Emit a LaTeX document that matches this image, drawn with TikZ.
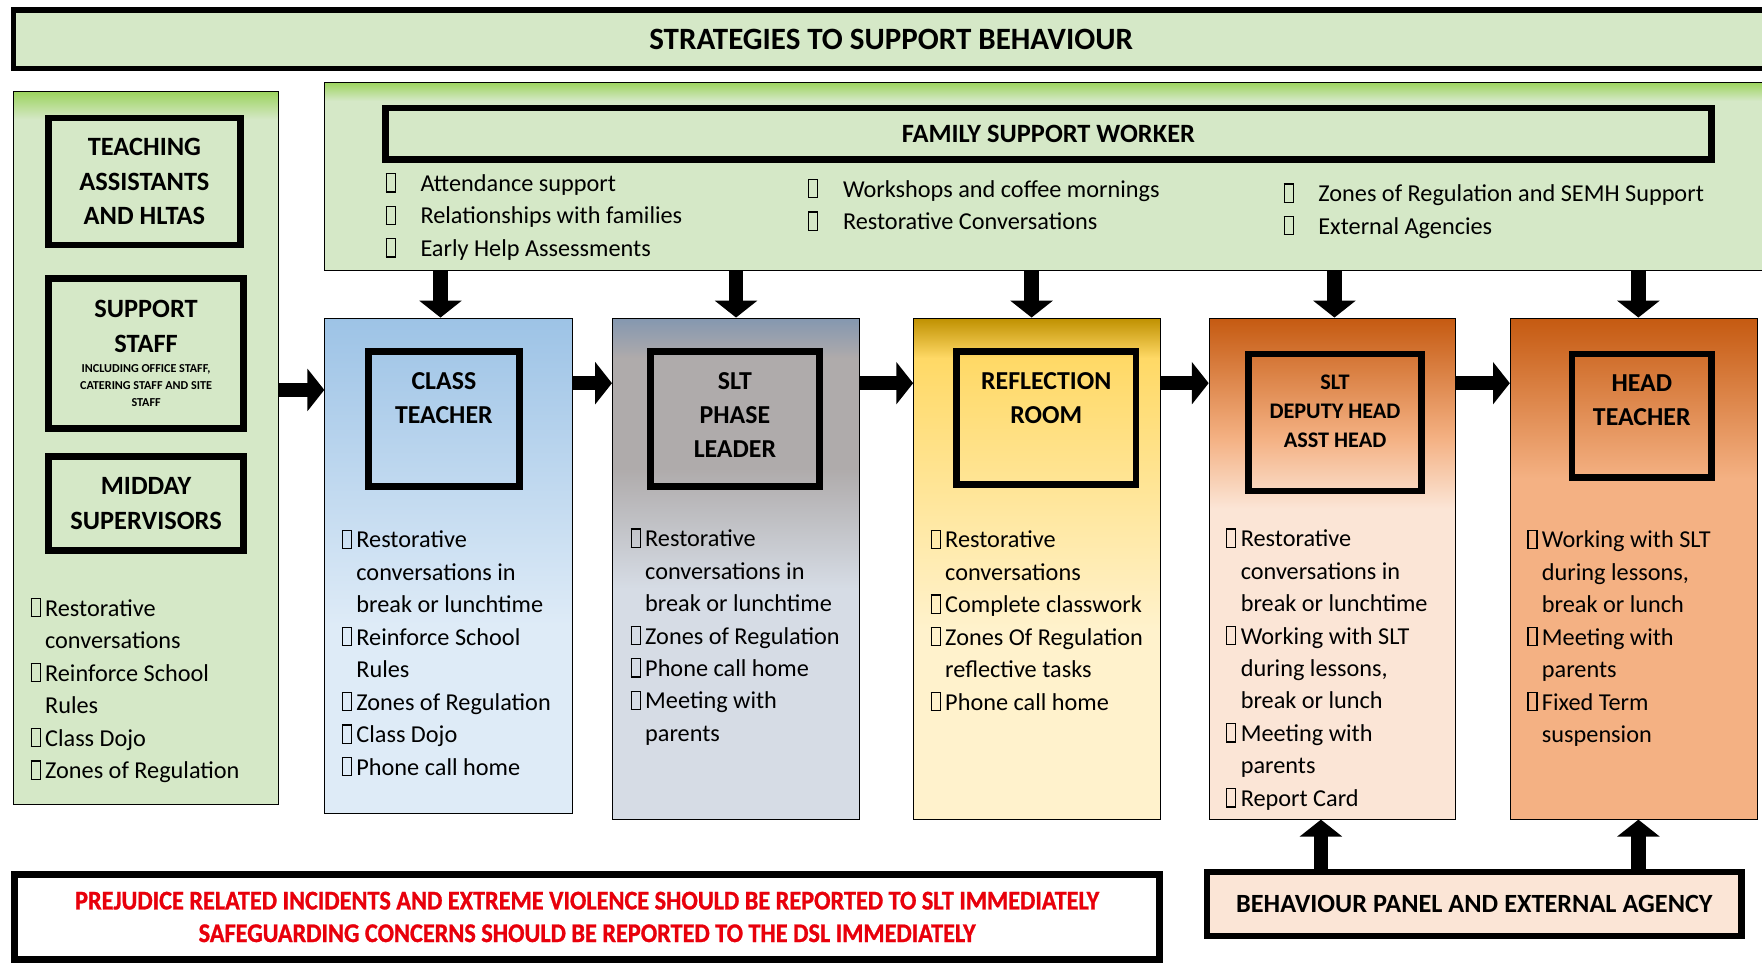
\documentclass[tikz,border=0pt]{standalone}
\usepackage{fontspec}
\setmainfont{Carlito}
\newfontfamily\warnfont{Carlito}[FakeStretch=0.9,FakeBold=1]
\usetikzlibrary{positioning,arrows.meta}

\definecolor{panelgreen}{HTML}{D5E8C7}
\definecolor{topgreen}{HTML}{9BD35C}
\definecolor{classtop}{HTML}{9DC3E6}
\definecolor{classbot}{HTML}{DEEBF7}
\definecolor{slttop}{HTML}{8497B0}
\definecolor{sltmid}{HTML}{AFABAB}
\definecolor{sltbot}{HTML}{D6DCE5}
\definecolor{refltop}{HTML}{BF9000}
\definecolor{reflmid}{HTML}{FFD966}
\definecolor{reflbot}{HTML}{FFF2CC}
\definecolor{deptop}{HTML}{C55A11}
\definecolor{depmid}{HTML}{F4B183}
\definecolor{depbot}{HTML}{FBE5D6}
\definecolor{warnred}{HTML}{E8000B}

% gradients, path box = 25bp..75bp
\pgfdeclareverticalshading{staffshade}{100bp}{color(0bp)=(panelgreen); color(73bp)=(panelgreen); color(75bp)=(topgreen); color(100bp)=(topgreen)}
\pgfdeclareverticalshading{fswshade}{100bp}{color(0bp)=(panelgreen); color(70bp)=(panelgreen); color(75bp)=(topgreen); color(100bp)=(topgreen)}
\pgfdeclareverticalshading{classshade}{100bp}{color(0bp)=(classbot); color(44bp)=(classbot); color(75bp)=(classtop); color(100bp)=(classtop)}
\pgfdeclareverticalshading{sltshade}{100bp}{color(0bp)=(sltbot); color(48bp)=(sltbot); color(60bp)=(sltmid); color(71bp)=(sltmid); color(75bp)=(slttop); color(100bp)=(slttop)}
\pgfdeclareverticalshading{reflshade}{100bp}{color(0bp)=(reflbot); color(44bp)=(reflbot); color(71bp)=(reflmid); color(75bp)=(refltop); color(100bp)=(refltop)}
\pgfdeclareverticalshading{depshade}{100bp}{color(0bp)=(depbot); color(56bp)=(depbot); color(63bp)=(depmid); color(75bp)=(deptop); color(100bp)=(deptop)}
\pgfdeclareverticalshading{headshade}{100bp}{color(0bp)=(depmid); color(59bp)=(depmid); color(75bp)=(deptop); color(100bp)=(deptop)}

\newcommand\tofu{\hbox to .6em{\setlength\fboxsep{0pt}\setlength\fboxrule{.05em}\fbox{\rule{0pt}{.7em}\rule{.32em}{0pt}}\hss}}
\newcommand\hang{\hphantom{\tofu}}
\newcommand\fitem{\makebox[31pt][l]{\tofu}}

\begin{document}
\begin{tikzpicture}[x=1pt,y=-1pt,
  every node/.style={inner sep=0pt},
  panel/.style={draw=black, line width=0.8pt, minimum width=220pt},
  thickbox/.style={draw=black, line width=6pt, align=center, font=\bfseries\fontsize{23.5}{30.5}\selectfont},
  roletext/.style={align=center, font=\bfseries\fontsize{23}{30.5}\selectfont},
  lst/.style={anchor=north west, align=left, font=\fontsize{21.6}{28.9}\selectfont},
  blockarrow/.style={line width=13pt, -{Triangle[width=37pt,length=15pt]}}]

\useasboundingbox (0,0) rectangle (1568,858);

% title bar
\node[thickbox, line width=5pt, fill=panelgreen, minimum width=1562pt, minimum height=52pt, font=\bfseries\fontsize{27.6}{30}\selectfont] (title) at (793,35) {STRATEGIES TO SUPPORT BEHAVIOUR};

% staff panel
\node[panel, shading=staffshade, minimum width=236pt, minimum height=635pt] (staff) at (130,398.5) {};
\node[thickbox, minimum width=171pt, minimum height=113pt] (ta) at (128.5,161.5) {TEACHING\\ASSISTANTS\\AND HLTAS};
\node[thickbox, minimum width=174pt, minimum height=133pt] (ss) at (130,314.5) {SUPPORT\\STAFF\\[-12.5pt]\parbox[t]{170pt}{\centering\fontsize{10.8}{15}\selectfont INCLUDING OFFICE STAFF,\\CATERING STAFF AND SITE\\STAFF}};
\node[thickbox, minimum width=174pt, minimum height=84pt] (ms) at (130,448) {MIDDAY\\SUPERVISORS};
\node[lst] (stafflist) at (27,532) {\tofu Restorative\\\hang conversations\\\tofu Reinforce School\\\hang Rules\\\tofu Class Dojo\\\tofu Zones of Regulation};

% family support worker
\node[panel, shading=fswshade, minimum width=1291pt, minimum height=168pt] (fsw) at (934.5,157) {};
\node[thickbox, font=\bfseries\fontsize{23.5}{26}\selectfont, minimum width=1180pt, minimum height=46pt] (fswhead) at (933,119) {FAMILY SUPPORT WORKER};
\node[lst] (fswa) at (343,154) {\fitem Attendance support\\\fitem Relationships with families\\\fitem Early Help Assessments};
\node[lst] (fswb) at (719,159) {\fitem Workshops and coffee mornings\\\fitem Restorative Conversations};
\node[lst] (fswc) at (1142,163) {\fitem Zones of Regulation and SEMH Support\\\fitem External Agencies};

% columns
\node[panel, shading=classshade, minimum height=441pt] (class) at (399,503.5) {};
\node[panel, shading=sltshade, minimum height=446pt] (slt) at (655,506) {};
\node[panel, shading=reflshade, minimum height=446pt] (refl) at (923,506) {};
\node[panel, shading=depshade, minimum width=219pt, minimum height=446pt] (dep) at (1185.5,506) {};
\node[panel, shading=headshade, minimum height=446pt] (head) at (1454,506) {};

\node[thickbox, minimum width=134pt, minimum height=120pt] (ct) at (395,373) {};
\node[roletext, below=21pt of ct.north] (cttext) {CLASS\\TEACHER};
\node[thickbox, minimum width=150pt, minimum height=120pt] (sp) at (654,373) {};
\node[roletext, below=21pt of sp.north] (sptext) {SLT\\PHASE\\LEADER};
\node[thickbox, minimum width=160pt, minimum height=118pt] (rr) at (931,372) {};
\node[roletext, below=21pt of rr.north] (rrtext) {REFLECTION\\ROOM};
\node[thickbox, minimum width=154pt, minimum height=122pt] (dh) at (1188,376) {};
\node[roletext, font=\bfseries\fontsize{19.8}{26}\selectfont, below=21pt of dh.north] (dhtext) {SLT\\DEPUTY HEAD\\ASST HEAD};
\node[thickbox, minimum width=124pt, minimum height=110pt] (ht) at (1461,370) {};
\node[roletext, below=21pt of ht.north] (httext) {HEAD\\TEACHER};

\node[lst] (classlist) at (304,471) {\tofu Restorative\\\hang conversations in\\\hang break or lunchtime\\\tofu Reinforce School\\\hang Rules\\\tofu Zones of Regulation\\\tofu Class Dojo\\\tofu Phone call home};
\node[lst] (sltlist) at (561,470) {\tofu Restorative\\\hang conversations in\\\hang break or lunchtime\\\tofu Zones of Regulation\\\tofu Phone call home\\\tofu Meeting with\\\hang parents};
\node[lst] (refllist) at (828,471) {\tofu Restorative\\\hang conversations\\\tofu Complete classwork\\\tofu Zones Of Regulation\\\hang reflective tasks\\\tofu Phone call home};
\node[lst] (deplist) at (1091,470) {\tofu Restorative\\\hang conversations in\\\hang break or lunchtime\\\tofu Working with SLT\\\hang during lessons,\\\hang break or lunch\\\tofu Meeting with\\\hang parents\\\tofu Report Card};
\node[lst] (headlist) at (1359,471) {\tofu Working with SLT\\\hang during lessons,\\\hang break or lunch\\\tofu Meeting with\\\hang parents\\\tofu Fixed Term\\\hang suspension};

% arrows
\coordinate (rowa) at (0,347);
\coordinate (rowb) at (0,341);
\draw[blockarrow] (staff.east |- rowa) -- (class.west |- rowa);
\draw[blockarrow] (class.east |- rowb) -- (slt.west |- rowb);
\draw[blockarrow] (slt.east |- rowb) -- (refl.west |- rowb);
\draw[blockarrow] (refl.east |- rowb) -- (dep.west |- rowb);
\draw[blockarrow] (dep.east |- rowb) -- (head.west |- rowb);
\foreach \col/\dx in {class/-7,slt/0,refl/-5,dep/2,head/4}{
  \coordinate (top) at ([xshift=\dx pt]\col.north);
  \draw[blockarrow] (fsw.south -| top) -- (top);
}

% bottom boxes
\node[thickbox, font=\warnfont\bfseries\fontsize{24}{29}\selectfont, text=warnred, minimum width=1019pt, minimum height=76pt] (warn) at (522.5,816) {PREJUDICE RELATED INCIDENTS AND EXTREME VIOLENCE SHOULD BE REPORTED TO SLT IMMEDIATELY\\SAFEGUARDING CONCERNS SHOULD BE REPORTED TO THE DSL IMMEDIATELY};
\node[thickbox, fill=depbot, font=\bfseries\fontsize{23.4}{26}\selectfont, minimum width=476pt, minimum height=57pt] (bpanel) at (1312,804.5) {BEHAVIOUR PANEL AND EXTERNAL AGENCY};
\foreach \col/\dx in {dep/-10,head/4}{
  \coordinate (foot) at ([xshift=\dx pt]\col.south);
  \draw[blockarrow] (bpanel.north -| foot) -- (foot);
}
\end{tikzpicture}
\end{document}
